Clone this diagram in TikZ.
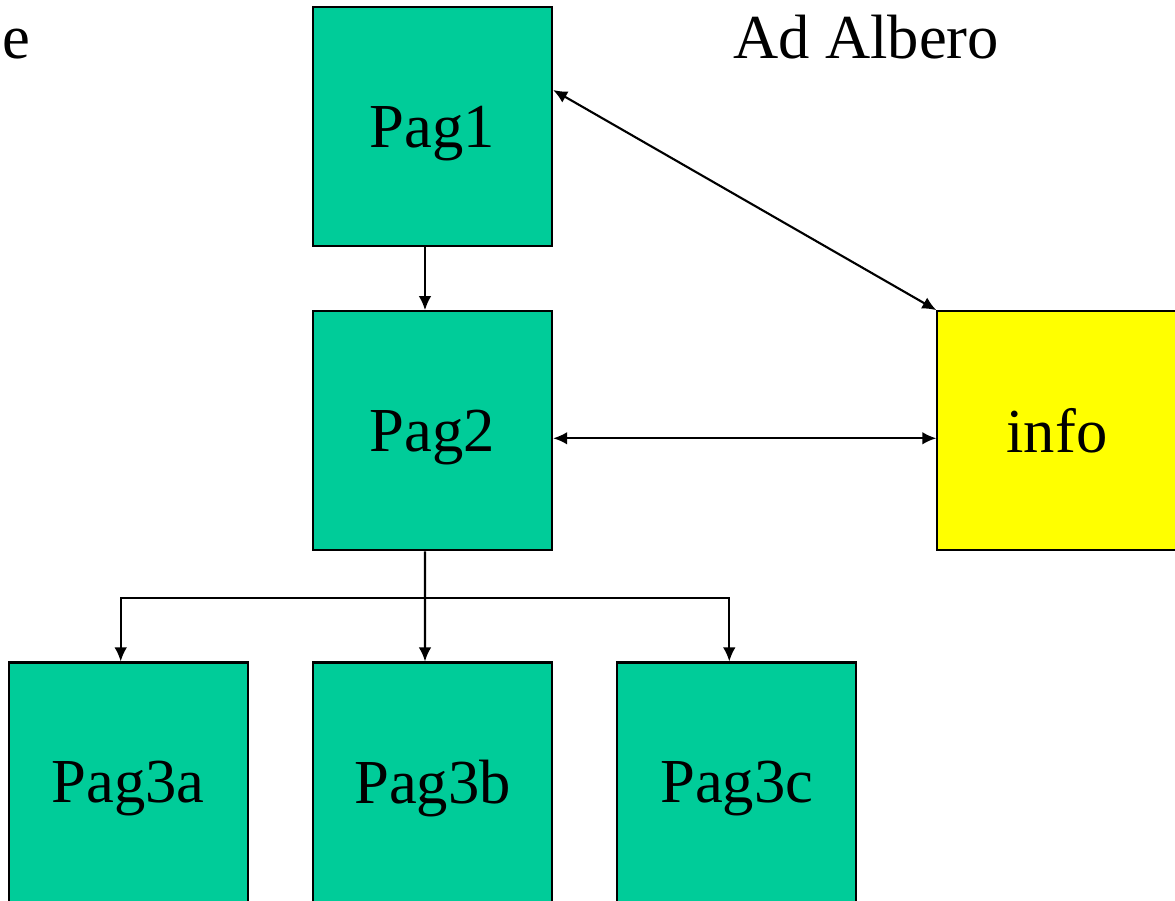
\documentclass[tikz,border=0pt]{standalone}
\usepackage{fontspec}
\setmainfont{Liberation Serif}
\usetikzlibrary{arrows.meta, positioning}
\definecolor{pagegreen}{RGB}{0,204,153}
\definecolor{infoyellow}{RGB}{255,255,0}
\tikzstyle{page}=[draw,fill=pagegreen,rectangle,minimum width=2.39cm,minimum height=2.39cm,line width=0.6pt,text depth=0pt]
\tikzstyle{every node}=[font=\fontsize{17.8}{21}\selectfont]

\begin{document}
\begin{tikzpicture}[x=0.01cm,y=-0.01cm,node distance=0.63cm,>={Latex[length=4pt,width=3.6pt]},line width=0.6pt]
    \useasboundingbox (0,0) rectangle (1175,901);
    \clip (0,0) rectangle (1175,901);

    \node[anchor=base east,inner sep=0pt] (cut) at (31,59) {e};
    \node[anchor=base,inner sep=0pt] (title) at (866,59) {Ad Albero};

    \node[page] (Pag1) at (432.5,126.5) {Pag1};
    \node[page, below=of Pag1] (Pag2) {Pag2};
    \node[page, fill=infoyellow, right=3.83cm of Pag2] (info) {info};
    \draw[->] ([xshift=-0.075cm]Pag1.south) -- ([xshift=-0.075cm]Pag2.north);
    \draw[<->] ([yshift=0.365cm]Pag1.east) -- (info.north west);
    \draw[<->] ([yshift=-0.075cm]Pag2.east) -- ([yshift=-0.075cm]info.west);

    \node[page, below=1.10cm of Pag2] (Pag3b) {Pag3b};
    \node[page, left=of Pag3b] (Pag3a) {Pag3a};
    \node[page, right=of Pag3b] (Pag3c) {Pag3c};
    \coordinate (split) at (425,598);
    \draw ([xshift=-0.075cm]Pag2.south) -- (split);
    \draw[->] (split) -| ([xshift=-0.075cm]Pag3a.north);
    \draw[->] (split) -- ([xshift=-0.075cm]Pag3b.north);
    \draw[->] (split) -| ([xshift=-0.075cm]Pag3c.north);
\end{tikzpicture}
\end{document}
